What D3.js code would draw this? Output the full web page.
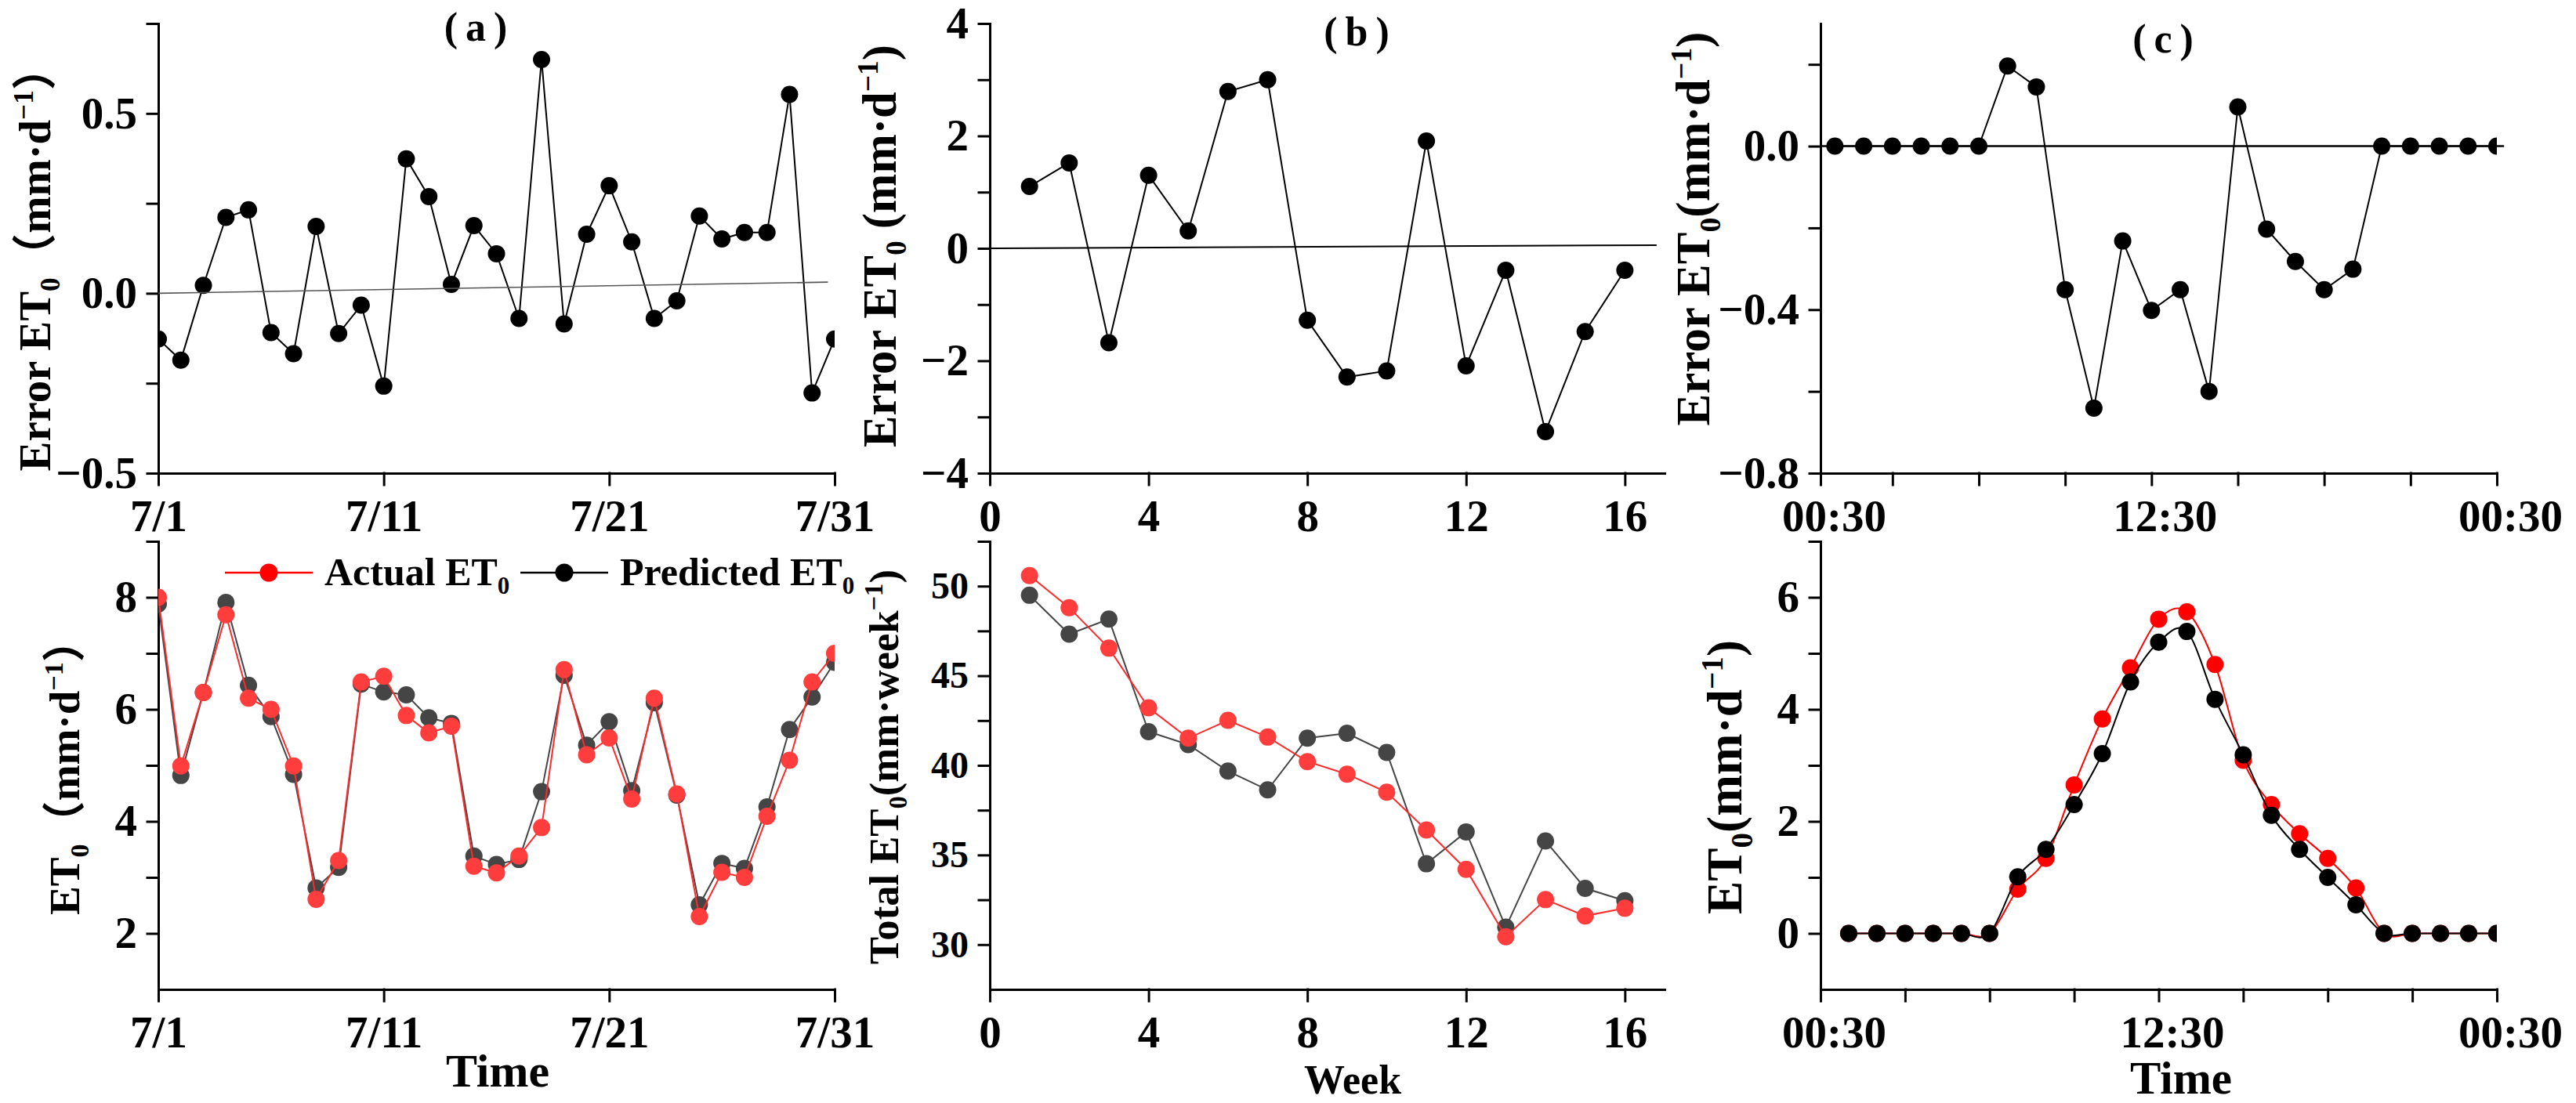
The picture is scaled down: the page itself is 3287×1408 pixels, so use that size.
<!DOCTYPE html>
<html>
<head>
<meta charset="utf-8">
<script src="https://cdn.jsdelivr.net/npm/d3@7"></script>
<style>
  html, body { margin: 0; padding: 0; background: #fff; }
  svg { display: block; font-family: "Liberation Serif", "Times New Roman", "Noto Sans CJK SC", serif; font-weight: bold; }
  .axis path, .axis line { stroke: #000; stroke-width: 3; stroke-linecap: square; }
  .axis text { fill: #000; font-family: "Liberation Serif", "Times New Roman", serif; font-weight: bold; }
</style>
</head>
<body>
<script>
/* ---------------- data ---------------- */
const days = [1,2,3,4,5,6,7,8,9,10,11,12,13,14,15,16,17,18,19,20,21,22,23,24,25,26,27,28,29,30,31];
const dailyErr = [-0.127,-0.186,0.022,0.211,0.232,-0.109,-0.168,0.186,-0.112,-0.033,-0.258,0.374,0.269,0.025,0.188,
                  0.110,-0.070,0.650,-0.085,0.164,0.299,0.143,-0.070,-0.021,0.215,0.151,0.169,0.169,0.553,-0.277,-0.127];
const dailyActual = [8.00,4.99,6.30,7.69,6.20,6.00,4.99,2.61,3.30,6.49,6.59,5.89,5.58,5.70,3.20,3.08,3.38,3.89,6.71,
                     5.19,5.49,4.40,6.20,4.49,2.30,3.09,3.00,4.09,5.09,6.49,7.00];
const dailyPred   = [7.88,4.82,6.30,7.91,6.43,5.87,4.84,2.81,3.18,6.45,6.31,6.26,5.85,5.75,3.38,3.23,3.32,4.53,6.61,
                     5.36,5.78,4.55,6.12,4.47,2.51,3.25,3.16,4.26,5.64,6.22,6.84];
const dailyTrendX = [1, 30.7];
const dailyTrendY = [0, 0.031];

const weeks = [1,2,3,4,5,6,7,8,9,10,11,12,13,14,15,16];
const weeklyErr    = [1.10,1.52,-1.68,1.30,0.31,2.79,3.00,-1.28,-2.29,-2.18,1.91,-2.09,-0.39,-3.26,-1.48,-0.39];
const weeklyActual = [50.59,48.80,46.54,43.21,41.52,42.51,41.58,40.21,39.51,38.50,36.39,34.20,30.44,32.51,31.60,32.03];
const weeklyPred   = [49.49,47.32,48.16,41.88,41.16,39.68,38.63,41.52,41.79,40.72,34.51,36.29,30.97,35.78,33.14,32.45];
const weeklyTrendX = [0, 16.8];
const weeklyTrendY = [0, 0.056];

const hours = [1,2,3,4,5,6,7,8,9,10,11,12,13,14,15,16,17,18,19,20,21,22,23,24];
const hourlyErr    = [0,0,0,0,0,0,0.196,0.145,-0.351,-0.641,-0.232,-0.402,-0.351,-0.600,0.096,-0.203,-0.282,-0.351,-0.301,0,0,0,0,0];
const hourlyActual = [0,0,0,0,0,0,0.79,1.34,2.65,3.83,4.74,5.61,5.74,4.80,3.09,2.30,1.78,1.34,0.81,0,0,0,0,0];
const hourlyPred   = [0,0,0,0,0,0,1.01,1.50,2.30,3.21,4.49,5.20,5.39,4.18,3.19,2.11,1.50,1.00,0.51,0,0,0,0,0];
const hourlyZeroX = [0.5, 24.25];
const hourlyZeroY = [0, 0];

/* ticks */
const dayTickVals  = [1, 11, 21, 31];
const dayTickText  = ["7/1", "7/11", "7/21", "7/31"];
const weekTickVals = [0, 4, 8, 12, 16];
const hourTickTop  = [0.5, 3, 6, 9, 12, 15, 18, 21, 24];
const hourTickBot  = [0, 3, 6, 9, 12, 15, 18, 21, 24];
const hourLabelTop = [0.5, 12, 24];
const hourLabelBot = [0, 12, 24];
const hourTickText = ["00:30", "12:30", "00:30"];

const errDayMajor  = [-0.5, 0, 0.5],   errDayMinor  = [-0.25, 0.25, 0.75];
const errWeekMajor = [-4, -2, 0, 2, 4], errWeekMinor = [-3, -1, 1, 3];
const errHourMajor = [-0.8, -0.4, 0],  errHourMinor = [-0.6, -0.2, 0.2];
const etDayMajor   = [2, 4, 6, 8],     etDayMinor   = [3, 5, 7, 9];
const etWeekMajor  = [30, 35, 40, 45, 50], etWeekMinor = [32.5, 37.5, 42.5, 47.5, 52.5];
const etHourMajor  = [0, 2, 4, 6],     etHourMinor  = [1, 3, 5, 7];

const legendNames = ["Actual ET", "Predicted ET"];
const panelLetters = ["(a)", "(b)", "(c)"];

/* ---------------- layout ---------------- */
const W = 3287, H = 1408;
const cols = [{x0: 202, x1: 1065}, {x0: 1263, x1: 2124}, {x0: 2323, x1: 3186}];
const rows = [{y0: 30, y1: 604}, {y0: 691, y1: 1263}];
const RED = "#ff2a2a", RED_DOT = "#ff3d3d", GREY = "#454545";

const svg = d3.select("body").append("svg").attr("width", W).attr("height", H);
const defs = svg.append("defs");
let clipId = 0;

function labelFmt(vals, texts) {
  return d => { const i = vals.indexOf(d); return i < 0 ? "" : texts[i]; };
}

function panel(c, r, o) {
  const L = cols[c], R = rows[r];
  const x = d3.scaleLinear().domain(o.xDomain).range([L.x0, L.x1]);
  const y = d3.scaleLinear().domain(o.yDomain).range([R.y1, R.y0]);
  const g = svg.append("g");

  const xa = g.append("g").attr("class", "axis").attr("transform", `translate(0,${R.y1})`)
    .call(d3.axisBottom(x).tickValues(o.xTicks).tickSize(15).tickSizeOuter(0).tickPadding(19).tickFormat(o.xFormat));
  xa.selectAll("text").attr("font-size", 57).attr("dx", o.xDx || 0);

  g.append("g").attr("class", "axis").attr("transform", `translate(${L.x0},0)`)
    .call(d3.axisLeft(y).tickValues(o.yMinor).tickSize(14).tickFormat(""))
    .select(".domain").remove();
  const ya = g.append("g").attr("class", "axis").attr("transform", `translate(${L.x0},0)`)
    .call(d3.axisLeft(y).tickValues(o.yMajor).tickSize(14).tickSizeOuter(0).tickPadding(13).tickFormat(d3.format(o.yFmt)));
  ya.selectAll("text").attr("font-size", o.yFont || 57);

  const id = "clip" + (clipId++);
  defs.append("clipPath").attr("id", id).append("rect")
    .attr("x", L.x0).attr("y", R.y0 - 30).attr("width", L.x1 - L.x0).attr("height", R.y1 - R.y0 + 60);
  const plot = g.append("g").attr("clip-path", `url(#${id})`);

  if (o.ref) {
    g.append("path").datum(d3.zip(o.ref.x, o.ref.y))
      .attr("fill", "none").attr("stroke", o.ref.color).attr("stroke-width", o.ref.width)
      .attr("d", d3.line().x(d => x(d[0])).y(d => y(d[1])));
  }

  o.series.forEach(s => {
    const pts = d3.zip(o.xs, s.values);
    plot.append("path").datum(pts)
      .attr("fill", "none").attr("stroke", s.line).attr("stroke-width", 2)
      .attr("d", d3.line().curve(s.curve || d3.curveLinear).x(d => x(d[0])).y(d => y(d[1])));
    plot.append("g").selectAll("circle").data(pts).join("circle")
      .attr("cx", d => x(d[0])).attr("cy", d => y(d[1])).attr("r", 11)
      .attr("fill", s.dot);
  });
  return {x, y};
}

/* text with subscript / superscript pieces */
function richText(t, parts, fs) {
  t.selectAll("tspan").remove();
  t.attr("font-size", fs);
  let shift = 0;
  parts.forEach(p => {
    const s = t.append("tspan").text(p.t);
    let target = 0;
    if (p.sub) { s.attr("font-size", fs * 0.62); target = 0.22 * fs; }
    if (p.sup) { s.attr("font-size", fs * 0.62); target = -0.38 * fs; }
    s.attr("dy", target - shift);
    shift = target;
  });
}

function yTitle(cx, cy, len, parts) {
  const t = svg.append("text").attr("text-anchor", "middle").attr("fill", "#000");
  richText(t, parts, 60);
  const fs = 60 * len / t.node().getComputedTextLength();
  richText(t, parts, fs);
  t.attr("transform", `translate(${cx + 0.3 * fs},${cy}) rotate(-90)`);
}

function xTitle(cx, base, fs, str) {
  svg.append("text").attr("x", cx).attr("y", base).attr("text-anchor", "middle")
    .attr("font-size", fs).text(str);
}

/* ---------------- panels ---------------- */
panel(0, 0, {
  xDomain: [1, 31], xTicks: dayTickVals, xFormat: labelFmt(dayTickVals, dayTickText),
  yDomain: [-0.5, 0.75], yMajor: errDayMajor, yMinor: errDayMinor, yFmt: ".1f",
  xs: days, ref: {x: dailyTrendX, y: dailyTrendY, color: "#555", width: 1.6},
  series: [{values: dailyErr, line: "#000", dot: "#000"}]
});
panel(1, 0, {
  xDomain: [0, 17], xTicks: weekTickVals, xFormat: d3.format("d"),
  yDomain: [-4, 4], yMajor: errWeekMajor, yMinor: errWeekMinor, yFmt: "d",
  xs: weeks, ref: {x: weeklyTrendX, y: weeklyTrendY, color: "#000", width: 2},
  series: [{values: weeklyErr, line: "#000", dot: "#000"}]
});
panel(2, 0, {
  xDomain: [0.5, 24], xTicks: hourTickTop, xFormat: labelFmt(hourLabelTop, hourTickText), xDx: 17,
  yDomain: [-0.8, 0.3], yMajor: errHourMajor, yMinor: errHourMinor, yFmt: ".1f",
  xs: hours, ref: {x: hourlyZeroX, y: hourlyZeroY, color: "#000", width: 2.5},
  series: [{values: hourlyErr, line: "#000", dot: "#000"}]
});
panel(0, 1, {
  xDomain: [1, 31], xTicks: dayTickVals, xFormat: labelFmt(dayTickVals, dayTickText),
  yDomain: [1, 9], yMajor: etDayMajor, yMinor: etDayMinor, yFmt: "d",
  xs: days,
  series: [{values: dailyPred, line: GREY, dot: GREY}, {values: dailyActual, line: RED, dot: RED_DOT}]
});
panel(1, 1, {
  xDomain: [0, 17], xTicks: weekTickVals, xFormat: d3.format("d"),
  yDomain: [27.5, 52.5], yMajor: etWeekMajor, yMinor: etWeekMinor, yFmt: "d", yFont: 48,
  xs: weeks,
  series: [{values: weeklyPred, line: GREY, dot: GREY}, {values: weeklyActual, line: RED, dot: RED_DOT}]
});
panel(2, 1, {
  xDomain: [0, 24], xTicks: hourTickBot, xFormat: labelFmt(hourLabelBot, hourTickText), xDx: 17,
  yDomain: [-1, 7], yMajor: etHourMajor, yMinor: etHourMinor, yFmt: "d",
  xs: hours,
  series: [{values: hourlyActual, line: "#ff0000", dot: "#ff0000", curve: d3.curveCardinal.tension(0)},
           {values: hourlyPred, line: "#000", dot: "#000", curve: d3.curveCardinal.tension(0)}]
});

/* ---------------- axis titles ---------------- */
yTitle(47, 330, 543, [{t: "Error ET"}, {t: "0", sub: true}, {t: "（mm·d"}, {t: "−1", sup: true}, {t: "）"}]);
yTitle(1125, 314, 514, [{t: "Error ET"}, {t: "0", sub: true}, {t: " (mm·d"}, {t: "−1", sup: true}, {t: ")"}]);
yTitle(2163, 292, 503, [{t: "Error ET"}, {t: "0", sub: true}, {t: "(mm·d"}, {t: "−1", sup: true}, {t: ")"}]);
yTitle(84, 979, 378, [{t: "ET"}, {t: "0", sub: true}, {t: "（mm·d"}, {t: "−1", sup: true}, {t: "）"}]);
yTitle(1130, 979, 504, [{t: "Total ET"}, {t: "0", sub: true}, {t: "(mm·week"}, {t: "−1", sup: true}, {t: ")"}]);
yTitle(2203, 992, 350, [{t: "ET"}, {t: "0", sub: true}, {t: "(mm·d"}, {t: "−1", sup: true}, {t: ")"}]);

xTitle(635, 1387, 60, "Time");
xTitle(1726, 1396, 52, "Week");
xTitle(2783, 1396, 59, "Time");

/* panel letters */
[[607, 52], [1731, 58], [2760, 67]].forEach(([cx, b], i) => {
  svg.append("text").attr("x", cx + 5).attr("y", b).attr("text-anchor", "middle")
    .attr("font-size", 52).attr("letter-spacing", 10).text(panelLetters[i]);
});

/* ---------------- legend (panel a, bottom) ---------------- */
const legend = svg.append("g");
[{x: 287, color: "#ff0000"}, {x: 664, color: "#000"}].forEach((e, i) => {
  legend.append("line").attr("x1", e.x).attr("x2", e.x + 112).attr("y1", 731).attr("y2", 731)
    .attr("stroke", e.color).attr("stroke-width", 2.5);
  legend.append("circle").attr("cx", e.x + 56).attr("cy", 731).attr("r", 11.5).attr("fill", e.color);
  const t = legend.append("text").attr("x", e.x + 127).attr("y", 747).attr("fill", "#000");
  richText(t, [{t: legendNames[i]}, {t: "0", sub: true}], 50);
});
</script>
</body>
</html>
